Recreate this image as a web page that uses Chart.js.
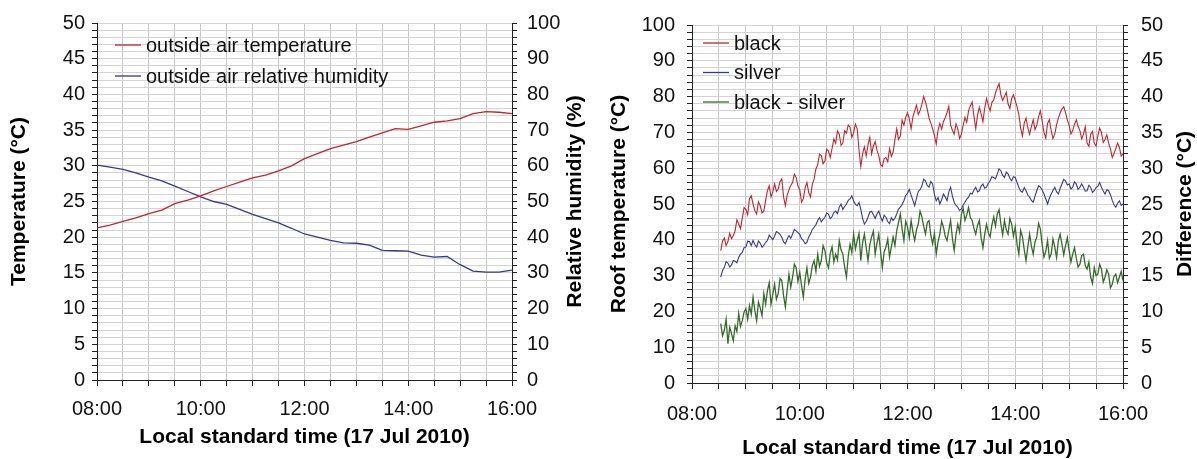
<!DOCTYPE html>
<html>
<head>
<meta charset="utf-8">
<script src="https://cdn.jsdelivr.net/npm/chart.js@4.4.1/dist/chart.umd.min.js"></script>
<style>
  body { margin: 0; background: #fff; width: 1197px; height: 459px; overflow: hidden; position: relative; }
  .panel { position: absolute; top: 0; height: 459px; }
</style>
</head>
<body>
<div class="panel" style="left:0;width:598px"><canvas id="air-chart"></canvas></div>
<div class="panel" style="left:598px;width:599px"><canvas id="roof-chart"></canvas></div>
<script>
// minutes after 08:00
const airTimes = [0, 15, 30, 45, 60, 75, 90, 105, 120, 135, 150, 165, 180, 195, 210, 225, 240,
  255, 270, 285, 300, 315, 330, 345, 360, 375, 390, 405, 420, 435, 450, 465, 480];
const airTemp = [21.3, 21.7, 22.2, 22.7, 23.3, 23.8, 24.7, 25.2, 25.8, 26.5, 27.1, 27.7, 28.3, 28.7,
  29.3, 30.0, 31.0, 31.7, 32.4, 32.9, 33.4, 34.0, 34.6, 35.2, 35.1, 35.6, 36.1, 36.3, 36.6, 37.3,
  37.6, 37.5, 37.3];
const airRH = [60.2, 59.6, 59.0, 58.0, 56.8, 55.8, 54.3, 52.8, 51.3, 50.0, 49.2, 47.8, 46.4, 45.2,
  44.0, 42.5, 40.9, 40.0, 39.1, 38.4, 38.3, 37.8, 36.3, 36.2, 36.1, 35.0, 34.4, 34.6, 32.3, 30.5,
  30.2, 30.2, 30.8];

// roof samples every 2 min from 08:32 to 16:00
const roofTimes = Array.from({ length: 225 }, (_, i) => 32 + 2 * i);
const roofBlack = [
  37.0, 39.6, 40.5, 38.4, 39.5, 41.8, 40.3, 41.2, 42.5, 45.6, 44.4, 43.1, 46.0, 49.0, 48.5, 47.0,
  51.5, 52.3, 50.0, 48.2, 47.2, 50.6, 49.5, 47.5, 48.0, 51.0, 53.7, 55.1, 52.0, 53.4, 55.6, 53.5,
  54.2, 56.2, 57.0, 52.0, 49.5, 52.5, 54.0, 55.2, 56.0, 58.3, 57.4, 55.0,
  54.0, 50.5, 51.5, 54.5, 56.0, 53.2, 52.0, 55.5, 57.0, 59.8, 61.0, 63.9, 63.5, 61.2, 62.0, 65.3,
  64.8, 63.0, 65.5, 68.2, 67.0, 70.4, 69.5, 66.4, 67.0, 70.5, 69.8, 72.1, 71.5, 68.6, 70.0, 72.3,
  71.0, 65.0, 60.5, 64.0, 66.0, 63.4, 66.5, 68.6, 64.0, 66.2, 67.5, 65.0, 63.5, 61.0, 60.5, 62.7,
  63.0, 61.8, 65.5, 63.3, 64.5, 67.9, 71.0, 68.0, 69.0, 73.4, 72.0, 74.2,
  75.5, 73.8, 71.0, 74.3, 76.0, 77.6, 75.0, 76.1, 77.8, 80.0, 78.5, 76.5, 74.0, 72.6, 71.0, 69.2,
  66.8, 70.6, 72.5, 70.9, 73.0, 74.1, 75.5, 77.3, 72.0, 70.6, 69.5, 72.4, 71.0, 68.3, 69.5, 72.0,
  74.2, 72.8, 76.0, 77.4, 78.5, 74.5, 71.0, 74.8, 77.0, 75.2, 73.0, 76.8, 79.5, 77.6, 76.0, 78.4,
  79.0, 81.0, 82.5, 83.6, 80.5, 78.9, 80.0, 81.2, 78.0, 76.7, 79.5, 80.5,
  78.8, 77.2, 75.0, 71.2, 69.0, 72.6, 74.0, 71.3, 69.5, 71.6, 73.5, 70.8, 72.0, 74.4, 76.0, 73.1,
  70.0, 68.4, 72.5, 73.6, 70.5, 68.3, 69.5, 72.1, 74.0, 75.4, 76.5, 77.2, 75.5, 73.5, 72.0, 69.6,
  70.5, 72.3, 73.5, 71.7, 70.5, 68.2, 69.5, 71.6, 67.0, 66.1, 69.5, 70.3, 67.0, 66.2, 69.0, 71.2,
  70.0, 67.2, 68.0, 69.3, 67.0, 65.4, 63.0, 64.1, 65.5, 67.0, 65.8, 63.4, 64.0];
const roofSilver = [
  29.6, 31.4, 32.3, 33.9, 33.5, 32.4, 33.0, 34.2, 34.0, 33.6, 35.1, 36.0, 36.5, 37.8, 38.0, 39.6,
  39.5, 38.4, 39.8, 38.7, 38.0, 39.7, 39.0, 37.9, 38.5, 39.3, 39.8, 41.3, 40.7, 40.1, 41.0, 42.3,
  42.0, 41.5, 40.7, 39.4, 38.9, 40.2, 41.2, 40.4, 41.6, 42.9, 42.5, 42.0,
  41.5, 40.3, 39.8, 38.9, 39.3, 40.8, 41.6, 42.9, 43.5, 44.2, 45.4, 46.2, 45.0, 45.7, 46.3, 47.5,
  47.2, 45.9, 46.5, 47.6, 48.0, 47.3, 49.1, 50.0, 48.5, 49.3, 50.0, 51.0, 51.4, 52.3, 50.8, 49.9,
  49.5, 50.4, 48.5, 46.0, 44.4, 45.1, 46.3, 47.7, 48.0, 47.0, 46.0, 47.2, 48.0, 46.4, 45.2, 46.9,
  46.3, 45.1, 44.5, 46.2, 45.4, 46.0, 47.2, 48.6, 49.1, 49.9, 50.9, 52.4,
  53.0, 54.1, 52.5, 51.0, 49.5, 51.6, 53.5, 54.0, 55.0, 56.9, 56.5, 55.2, 54.7, 56.3, 55.6, 52.7,
  50.9, 51.8, 50.0, 51.2, 52.8, 52.0, 50.9, 53.3, 54.7, 52.2, 50.5, 49.6, 49.1, 48.2, 48.6, 49.7,
  50.5, 51.4, 51.9, 53.0, 52.8, 53.9, 54.7, 53.4, 53.7, 55.0, 55.6, 54.4, 54.7, 55.8, 56.5, 57.6,
  57.4, 57.0, 58.4, 59.8, 59.3, 58.0, 57.4, 58.9, 58.4, 57.2, 56.5, 57.6,
  57.4, 56.0, 54.7, 53.6, 53.3, 54.6, 53.7, 52.5, 51.9, 51.0, 50.5, 52.2, 53.7, 55.1, 54.7, 53.9,
  52.8, 51.4, 50.0, 51.6, 52.8, 53.8, 54.7, 53.4, 52.8, 54.3, 55.6, 56.9, 56.5, 55.3, 55.6, 54.2,
  54.7, 56.2, 55.6, 54.1, 54.7, 55.6, 54.7, 53.6, 53.7, 55.2, 54.7, 53.2, 53.7, 54.6, 55.0, 56.0,
  54.7, 53.6, 52.8, 54.0, 53.7, 52.6, 51.0, 49.8, 49.1, 50.2, 50.9, 49.6, 50.0];
const roofDiff = [
  8.3, 6.6, 7.4, 8.9, 5.5, 7.8, 6.9, 5.9, 8.0, 7.2, 9.7, 7.9, 8.7, 9.9, 10.4, 8.9,
  10.8, 9.6, 12.0, 10.1, 8.7, 11.3, 10.5, 9.4, 12.5, 11.0, 12.9, 14.0, 11.0, 12.4, 13.8, 11.7,
  12.5, 14.6, 14.3, 12.2, 10.6, 13.0, 15.2, 13.4, 14.8, 16.6, 16.1, 14.2,
  15.5, 13.6, 12.0, 14.5, 16.1, 13.9, 14.8, 16.4, 17.1, 15.6, 18.0, 16.3, 17.1, 19.2, 18.5, 16.8,
  16.1, 18.1, 19.0, 16.9, 18.0, 17.2, 19.9, 18.6, 18.0, 16.2, 14.8, 17.7, 19.4, 18.2, 20.8, 18.7,
  19.9, 20.9, 17.1, 19.6, 20.8, 18.9, 17.1, 19.3, 20.4, 21.2, 18.0, 19.5, 20.8, 18.4, 16.1, 18.3,
  19.0, 20.1, 17.6, 19.0, 20.4, 19.2, 21.3, 22.4, 23.6, 21.5, 19.9, 22.6,
  21.8, 20.3, 22.7, 21.1, 19.9, 21.4, 22.2, 24.0, 23.2, 21.9, 20.8, 22.4, 22.7, 20.6, 19.4, 20.9,
  18.0, 19.7, 20.8, 22.6, 21.8, 20.5, 19.9, 21.3, 22.7, 20.2, 18.5, 20.7, 22.2, 21.1, 23.6, 24.4,
  22.7, 23.5, 24.5, 23.1, 22.7, 21.6, 20.8, 22.0, 22.7, 20.3, 18.9, 20.8, 22.2, 21.0, 20.4, 22.1,
  23.2, 21.9, 23.6, 24.2, 22.2, 20.7, 22.7, 21.4, 20.8, 23.0, 22.2, 20.5,
  21.8, 19.4, 18.0, 21.3, 20.4, 18.6, 17.1, 19.0, 20.8, 19.1, 18.0, 19.7, 20.4, 22.3, 21.5, 19.3,
  17.6, 18.4, 19.9, 17.4, 18.0, 20.1, 19.0, 17.5, 19.9, 20.8, 19.4, 17.9, 19.2, 20.3, 18.5, 16.9,
  18.0, 18.9, 17.4, 16.2, 16.6, 17.8, 18.0, 16.4, 15.9, 16.9, 14.8, 13.9, 16.1, 15.0, 15.2, 16.6,
  15.9, 14.1, 14.8, 15.8, 15.2, 13.3, 13.8, 14.9, 15.2, 14.0, 14.8, 15.6, 14.3];

const RED = "#c0262c";
const BLUE = "#35398f";
const GREEN = "#356b28";
const FONT = '"Liberation Sans", Arial, sans-serif';

Chart.defaults.font.family = FONT;
Chart.defaults.font.size = 20;
Chart.defaults.color = "#111";

const pts = (xs, ys) => xs.map((x, i) => ({ x, y: ys[i] }));

const fmtClock = (v) =>
  v % 120 === 0 ? `${String(8 + v / 60).padStart(2, "0")}:00` : "";

// legend drawn inside the plot area, top-left
const insideLegend = {
  id: "insideLegend",
  afterDatasetsDraw(chart, args, opts) {
    const { ctx, chartArea } = chart;
    ctx.save();
    ctx.font = `20px ${FONT}`;
    ctx.textBaseline = "middle";
    chart.data.datasets.forEach((ds, i) => {
      const x = chartArea.left + opts.x;
      const y = chartArea.top + opts.y + i * opts.gap;
      ctx.strokeStyle = ds.borderColor;
      ctx.lineWidth = 1.3;
      ctx.beginPath();
      ctx.moveTo(x, y);
      ctx.lineTo(x + opts.len, y);
      ctx.stroke();
      ctx.fillStyle = "#111";
      ctx.fillText(ds.label, x + opts.len + 5, y + 1);
    });
    ctx.restore();
  },
};

// right-hand axis title, reading bottom to top like the left one
const sideTitle = {
  id: "sideTitle",
  afterDraw(chart, args, opts) {
    const { ctx, chartArea } = chart;
    ctx.save();
    ctx.translate(opts.x, (chartArea.top + chartArea.bottom) / 2);
    ctx.rotate(-Math.PI / 2);
    ctx.font = `bold 21px ${FONT}`;
    ctx.fillStyle = "#000";
    ctx.textAlign = "center";
    ctx.textBaseline = "middle";
    ctx.fillText(opts.text, 0, 0);
    ctx.restore();
  },
};

const timeAxis = (height, pad, titlePad) => ({
  type: "linear",
  min: 0,
  max: 480,
  ticks: { stepSize: 30, autoSkip: false, maxRotation: 0, padding: pad, callback: fmtClock },
  grid: { color: "#c6c6c6", tickLength: 6, tickColor: "#222" },
  border: { color: "#222" },
  title: {
    display: true,
    text: "Local standard time (17 Jul 2010)",
    color: "#000",
    font: { size: 21, weight: "bold", lineHeight: 1 },
    padding: { top: 0, bottom: titlePad },
  },
  afterFit: (s) => { s.height = height; },
});

const valueAxis = (opts) => ({
  type: "linear",
  position: opts.position,
  min: 0,
  max: opts.max,
  ticks: {
    stepSize: opts.step,
    autoSkip: false,
    padding: opts.pad,
    callback: (v) => (v % opts.every === 0 ? v : ""),
  },
  grid: {
    drawOnChartArea: opts.grid,
    color: "#d3d3d3",
    tickLength: 5,
    tickColor: "#222",
  },
  border: { color: "#222" },
  title: {
    display: !!opts.title,
    text: opts.title || "",
    color: "#000",
    font: { size: 21, weight: "bold" },
    padding: { top: opts.titlePad || 0, bottom: 0 },
  },
  afterFit: (s) => { s.width = opts.width; },
});

new Chart(document.getElementById("air-chart"), {
  type: "line",
  data: {
    datasets: [
      {
        label: "outside air temperature",
        data: pts(airTimes, airTemp),
        borderColor: RED,
        borderWidth: 1.3,
        pointRadius: 0,
        yAxisID: "y",
      },
      {
        label: "outside air relative humidity",
        data: pts(airTimes, airRH),
        borderColor: BLUE,
        borderWidth: 1.3,
        pointRadius: 0,
        yAxisID: "y1",
      },
    ],
  },
  options: {
    responsive: true,
    maintainAspectRatio: false,
    animation: false,
    layout: { padding: { top: 23 } },
    plugins: {
      legend: { display: false },
      tooltip: { enabled: false },
      insideLegend: { x: 18, y: 22, gap: 31, len: 26 },
      sideTitle: { text: "Relative humidity (%)", x: 575 },
    },
    scales: {
      x: timeAxis(79, 11, 11.5),
      y: valueAxis({ position: "left", max: 50, step: 1, every: 5, pad: 7, width: 97,
        grid: true, title: "Temperature (°C)", titlePad: 7 }),
      y1: valueAxis({ position: "right", max: 100, step: 2, every: 10, pad: 10, width: 86,
        grid: false }),
    },
  },
  plugins: [insideLegend, sideTitle],
});

new Chart(document.getElementById("roof-chart"), {
  type: "line",
  data: {
    datasets: [
      {
        label: "black",
        data: pts(roofTimes, roofBlack),
        borderColor: RED,
        borderWidth: 1.1,
        pointRadius: 0,
        yAxisID: "y",
      },
      {
        label: "silver",
        data: pts(roofTimes, roofSilver),
        borderColor: BLUE,
        borderWidth: 1.1,
        pointRadius: 0,
        yAxisID: "y",
      },
      {
        label: "black - silver",
        data: pts(roofTimes, roofDiff),
        borderColor: GREEN,
        borderWidth: 1.3,
        pointRadius: 0,
        yAxisID: "y1",
      },
    ],
  },
  options: {
    responsive: true,
    maintainAspectRatio: false,
    animation: false,
    layout: { padding: { top: 24 } },
    plugins: {
      legend: { display: false },
      tooltip: { enabled: false },
      insideLegend: { x: 11, y: 18, gap: 29.5, len: 26 },
      sideTitle: { text: "Difference (°C)", x: 587 },
    },
    scales: {
      x: timeAxis(76, 13, 0),
      y: valueAxis({ position: "left", max: 100, step: 2, every: 10, pad: 12, width: 94,
        grid: true, title: "Roof temperature (°C)", titlePad: 9 }),
      y1: valueAxis({ position: "right", max: 50, step: 1, every: 5, pad: 13, width: 74,
        grid: false }),
    },
  },
  plugins: [insideLegend, sideTitle],
});
</script>
</body>
</html>
